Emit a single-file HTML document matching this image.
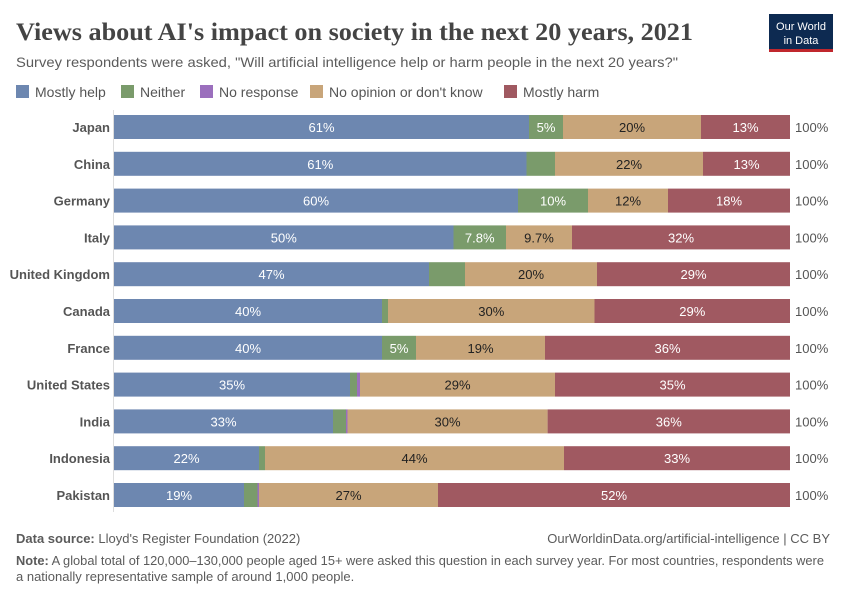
<!DOCTYPE html>
<html><head><meta charset="utf-8"><style>
body{margin:0;background:#fff;font-family:"Liberation Sans",sans-serif;}
</style></head><body>
<svg width="850" height="600" xmlns="http://www.w3.org/2000/svg" font-family="Liberation Sans, sans-serif">
<text x="16" y="40" font-family="Liberation Serif, serif" font-size="25" font-weight="bold" fill="#444" textLength="677" lengthAdjust="spacingAndGlyphs">Views about AI's impact on society in the next 20 years, 2021</text>
<text x="16" y="67" font-size="14" fill="#5b5b5b" textLength="662" lengthAdjust="spacingAndGlyphs">Survey respondents were asked, "Will artificial intelligence help or harm people in the next 20 years?"</text>
<rect x="769" y="14" width="64" height="38" fill="#0d2a51"/>
<rect x="769" y="49" width="64" height="3" fill="#c0272d"/>
<text x="801" y="30" font-size="11" fill="#fff" text-anchor="middle">Our World</text>
<text x="801" y="44" font-size="11" fill="#fff" text-anchor="middle">in Data</text>
<g font-size="14" fill="#555">
<rect x="16" y="85" width="13" height="13" fill="#6d87b0"/><text x="35" y="97">Mostly help</text>
<rect x="121" y="85" width="13" height="13" fill="#7a9b6b"/><text x="140" y="97">Neither</text>
<rect x="200" y="85" width="13" height="13" fill="#9b6fbd"/><text x="219" y="97">No response</text>
<rect x="310" y="85" width="13" height="13" fill="#c8a57a"/><text x="329" y="97">No opinion or don't know</text>
<rect x="504" y="85" width="13" height="13" fill="#a05961"/><text x="523" y="97">Mostly harm</text>
</g>
<line x1="113.5" y1="110" x2="113.5" y2="512" stroke="#ddd"/>
<g id="bars" font-size="13"></g>
<text x="16" y="543" font-size="13" fill="#5b5b5b"><tspan font-weight="bold">Data source:</tspan> Lloyd's Register Foundation (2022)</text>
<text x="830" y="543" font-size="13" fill="#5b5b5b" text-anchor="end">OurWorldinData.org/artificial-intelligence | CC BY</text>
<text x="16" y="565" font-size="13" fill="#5b5b5b" textLength="808" lengthAdjust="spacingAndGlyphs"><tspan font-weight="bold">Note:</tspan> A global total of 120,000–130,000 people aged 15+ were asked this question in each survey year. For most countries, respondents were</text>
<text x="16" y="581" font-size="13" fill="#5b5b5b">a nationally representative sample of around 1,000 people.</text>
</svg>
<script>
const rows=[
["Japan",[529,563,563,701],["61%","5%","","20%","13%"]],
["China",[526.5,555,555,703],["61%","","","22%","13%"]],
["Germany",[518,588,588,668],["60%","10%","","12%","18%"]],
["Italy",[453.5,506,506,572],["50%","7.8%","","9.7%","32%"]],
["United Kingdom",[429,465,465,597],["47%","","","20%","29%"]],
["Canada",[382,388,388,594.5],["40%","","","30%","29%"]],
["France",[382,416,416,545],["40%","5%","","19%","36%"]],
["United States",[350,357,360,555],["35%","","","29%","35%"]],
["India",[333,346,347.5,547.6],["33%","","","30%","36%"]],
["Indonesia",[259,265,265,564],["22%","","","44%","33%"]],
["Pakistan",[244,257.5,259,438],["19%","","","27%","52%"]]];
const cols=["#6d87b0","#7a9b6b","#9b6fbd","#c8a57a","#a05961"];
const tc=["#fff","#fff","#fff","#222","#fff"];
let s="";
rows.forEach((r,i)=>{const y=115+i*36.8;const e=[114,...r[1],790];
s+=`<text x="110" y="${y+17}" text-anchor="end" font-weight="bold" fill="#555">${r[0]}</text>`;
for(let k=0;k<5;k++){const w=e[k+1]-e[k];if(w<=0)continue;
s+=`<rect x="${e[k]}" y="${y}" width="${w}" height="24" fill="${cols[k]}"/>`;
if(r[2][k])s+=`<text x="${(e[k]+e[k+1])/2}" y="${y+17}" text-anchor="middle" fill="${tc[k]}">${r[2][k]}</text>`;}
s+=`<text x="795" y="${y+17}" fill="#555">100%</text>`;});
document.getElementById("bars").innerHTML=s;
</script>
</body></html>
